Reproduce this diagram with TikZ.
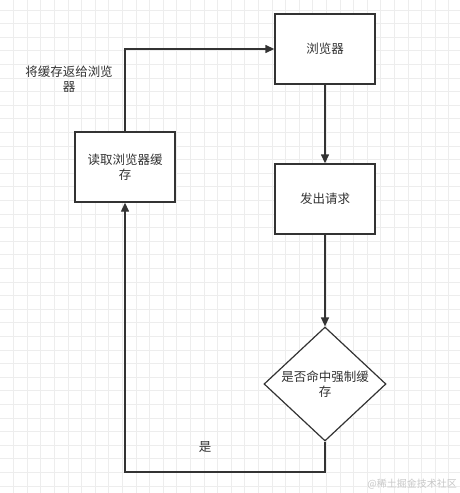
\documentclass[tikz,border=0pt]{standalone}
\usepackage{fontspec}
\newfontfamily\cjk{Noto Sans CJK SC}
\usetikzlibrary{shapes.geometric,arrows.meta}
\definecolor{ink}{HTML}{333333}
\definecolor{gridc}{HTML}{EDEDED}
\definecolor{wm}{HTML}{C8C8C8}
\begin{document}
\begin{tikzpicture}[x=1pt,y=-1pt,
  box/.style={draw=ink, line width=1.4pt, fill=white, minimum width=100pt, minimum height=70pt, inner sep=0pt, align=center, font=\cjk\fontsize{12.5}{15.5}\selectfont, text=ink},
  decision/.style={diamond, draw=ink, line width=1.2pt, fill=white, minimum width=122pt, minimum height=114pt, aspect=1.07, inner sep=0pt, align=center, font=\cjk\fontsize{12.5}{15.5}\selectfont, text=ink},
  conn/.style={draw=ink, line width=1.4pt, -{Triangle[length=9pt,width=8pt]}},
  lbl/.style={font=\cjk\fontsize{12.5}{15.5}\selectfont, text=ink, align=center, inner sep=0pt}]
\useasboundingbox (0,0) rectangle (460,493);
\fill[white] (0,0) rectangle (460,493);
\foreach \i in {0,...,34} {
  \draw[gridc, line width=0.8pt] ({13.5+13.6*\i},0) -- ({13.5+13.6*\i},493);
}
\foreach \j in {0,...,36} {
  \draw[gridc, line width=0.8pt] (0,{10+13.6*\j}) -- (460,{10+13.6*\j});
}
\node[box] (browser) at (325,49) {浏览器};
\node[box] (request) at (325,199) {发出请求};
\node[box] (read) at (125,167) {读取浏览器缓\\存};
\node[decision] (dec) at (325,384) {\raisebox{0pt}{是否命中强制缓}\\存};
\coordinate (c1) at (325,472);
\coordinate (c2) at (125,472);
\coordinate (c3) at (125,49);
\draw[conn] (browser) -- (request);
\draw[conn] (request) -- (dec);
\draw[conn] (dec.south) -- (c1) -- (c2) -- (read.south);
\draw[conn] (read.north) -- (c3) -- (browser.west);
\node[lbl] (l1) at (69,79) {将缓存返给浏览\\器};
\node[lbl] (l2) at (205,447) {是};
\node[font=\cjk\fontsize{10}{12}\selectfont, text=wm, anchor=east, inner sep=0pt] (w) at (457,484) {@稀土掘金技术社区};
\end{tikzpicture}
\end{document}
